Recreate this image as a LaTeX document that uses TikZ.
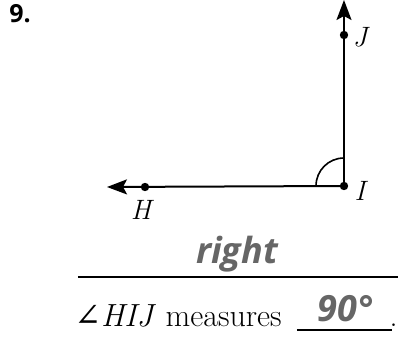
\documentclass[tikz,border=0pt]{standalone}
\usepackage{fontspec}
\newfontfamily\answerfont{Open Sans}
\newfontfamily\anglefont{DejaVu Serif}
\usetikzlibrary{arrows.meta, positioning, calc}

\begin{document}
\begin{tikzpicture}[
    x=0.5pt, y=-0.5pt,
    ray/.style={line width=1pt, -{Stealth[length=10pt, width=7.5pt, inset=2pt]}},
    lbl/.style={font=\fontsize{14}{17}\selectfont\itshape},
    stem/.style={font=\fontsize{16}{19}\selectfont, anchor=base west, inner sep=0pt},
    answer/.style={font=\answerfont\fontsize{18}{20}\selectfont\bfseries\itshape, text=black!60},
    blank/.style={line width=0.7pt},
    >=Stealth
]
\useasboundingbox (0,0) rectangle (398,347);

% Number
\node[font=\answerfont\fontsize{12.5}{14}\selectfont\bfseries, anchor=north west, inner sep=0pt] (num) at (9,4) {9.};

% Points
\coordinate (I) at (344,186);
\coordinate (H) at (145,187);
\coordinate (J) at (344,35);
\coordinate (Hend) at (107,187);
\coordinate (Jend) at (344,0);

% Rays
\draw[ray] (I) -- (Hend);
\draw[ray] (I) -- (Jend);
\foreach \p in {H, I, J}
    \fill (\p) circle[radius=4.2];

% Right angle arc
\draw[line width=0.8pt] ($(I)+(-28,0)$) arc[start angle=180, end angle=270, radius=28];

% Labels
\node[lbl] (labH) at (141,210) {H};
\node[lbl] (labI) at (360,191) {I};
\node[lbl] (labJ) at (360,37) {J};

% Answer lines
\coordinate (a1) at (78,277);
\coordinate (a2) at (398,277);
\draw[blank] (a1) -- (a2);
\node[answer] (type) at (237,254) {right};

\node[stem] (meas) at (74,327) {{\anglefont ∠}\textit{HIJ} measures};
\coordinate (b1) at (297,330);
\coordinate (b2) at (392,330);
\draw[blank] (b1) -- (b2);
\node[stem, anchor=base east] (dot) at (398,327) {.};
\node[answer] (deg) at (345,309) {90°};
\end{tikzpicture}
\end{document}
